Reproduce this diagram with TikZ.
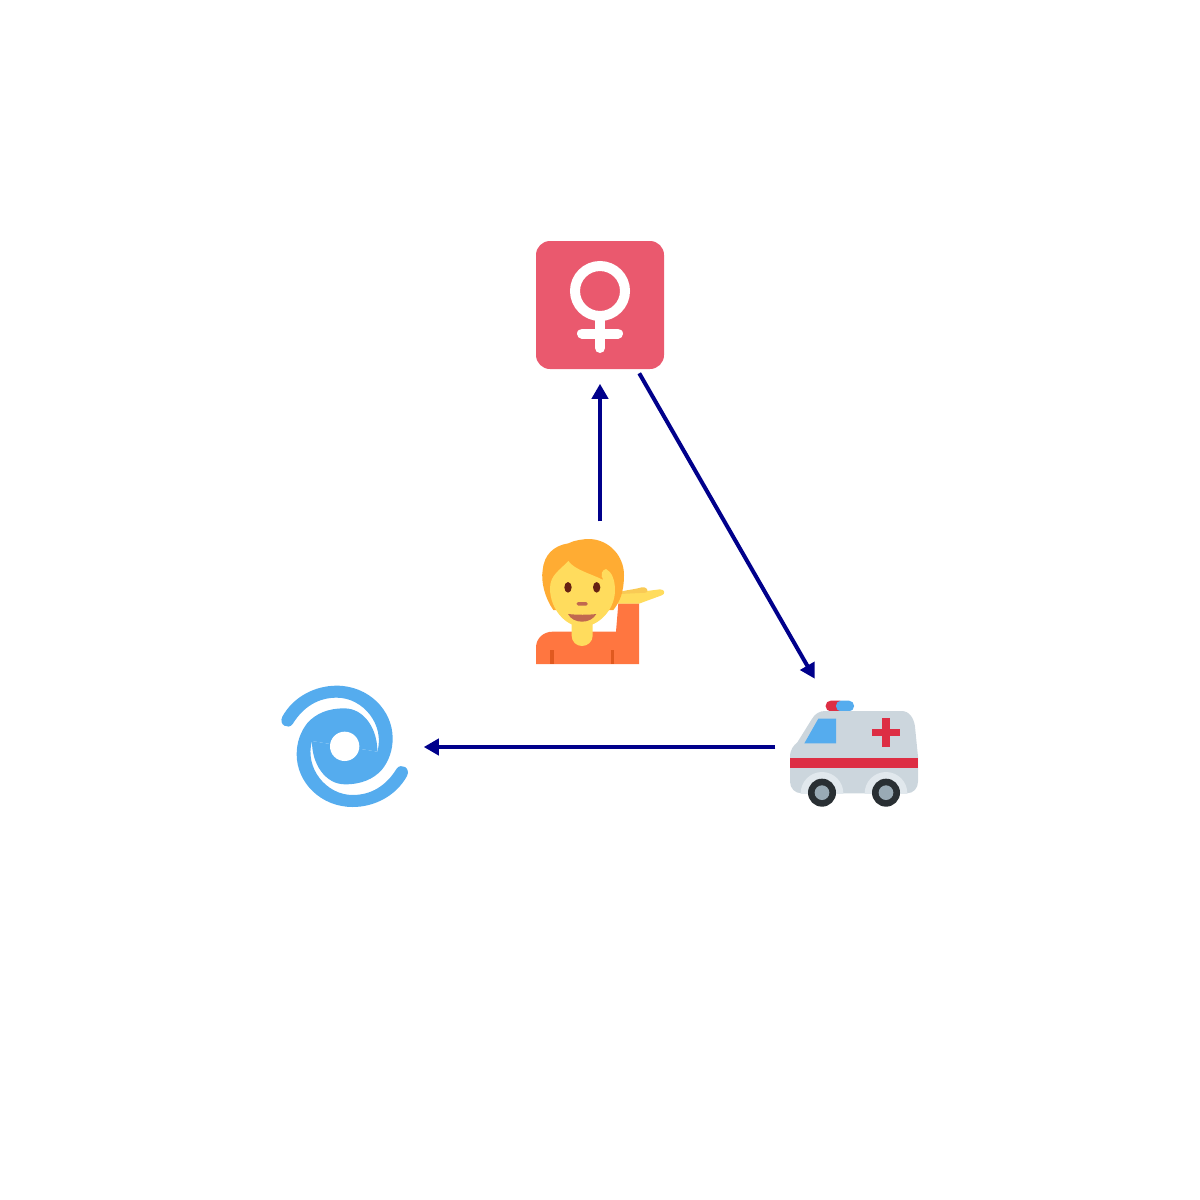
\documentclass[tikz,border=0pt]{standalone}
\usetikzlibrary{arrows.meta}
\definecolor{femalePink}{HTML}{EA596E}
\definecolor{skyBlue}{HTML}{55ACEE}
\definecolor{hairOrange}{HTML}{FFAC33}
\definecolor{skinYellow}{HTML}{FFDC5D}
\definecolor{handShade}{HTML}{F9CA55}
\definecolor{shirtOrange}{HTML}{FF7640}
\definecolor{seamOrange}{HTML}{E0591F}
\definecolor{eyeBrown}{HTML}{662113}
\definecolor{mouthBrown}{HTML}{C1694F}
\definecolor{vanGray}{HTML}{CCD6DD}
\definecolor{archGray}{HTML}{E1E8ED}
\definecolor{crossRed}{HTML}{DD2E44}
\definecolor{tyreDark}{HTML}{292F33}
\definecolor{hubGray}{HTML}{99AAB5}
\definecolor{linkBlue}{HTML}{00008B}
\begin{document}
\begin{tikzpicture}
        [x=0.01cm, y=-0.01cm,
        icon/.style={circle, minimum size=15.6mm, inner sep=0pt},
        link/.style={line width=0.4mm, color=linkBlue, -{Triangle[length=1.5mm, width=1.6mm]}}]
        \useasboundingbox (0,0) rectangle (1200,1200);

        \node[icon] (female) at (600,305) {};
        \node[icon] (person) at (600,600) {};
        \node[icon] (cyclone) at (345,747) {};
        \node[icon] (ambulance) at (854,747) {};

        % female sign
        \fill[femalePink, rounded corners=1.4mm] (536,241) rectangle (664,369);
        \draw[white, line width=1mm] (600,291) circle (25);
        \draw[white, line width=1mm, line cap=round] (600,318) -- (600,348);
        \draw[white, line width=1mm, line cap=round] (582,333.5) -- (618,333.5);

        % person
        \begin{scope}[shift={(520,525)}, scale=1/3]
            \fill[shirtOrange] (48,417) -- (48,368) .. controls (48,340) and (70,320) .. (98,320)
                -- (288,320) -- (295,235) -- (357,235) -- (357,417) -- cycle;
            \fill[seamOrange] (90,375) rectangle (102,417);
            \fill[seamOrange] (272,375) rectangle (282,417);
            \fill[skinYellow] (293,236) -- (293,205) -- (380,198) -- (420,193)
                .. controls (436,193) and (436,208) .. (425,211) -- (357,236) -- cycle;
            \fill[handShade] (293,207) .. controls (300,195) and (330,197) .. (365,187)
                .. controls (380,184) and (388,198) .. (378,203) -- (300,207) -- cycle;
            \fill[hairOrange] (100,255) .. controls (75,220) and (62,170) .. (68,135)
                .. controls (72,90) and (100,62) .. (145,55)
                .. controls (165,45) and (190,42) .. (210,42)
                .. controls (270,45) and (312,95) .. (312,150)
                .. controls (312,200) and (300,230) .. (280,255) -- cycle;
            \fill[skinYellow] (155,290) -- (218,290) -- (218,332)
                .. controls (218,350) and (203,363) .. (186,363)
                .. controls (169,363) and (155,350) .. (155,332) -- cycle;
            \fill[skinYellow] (90,190) .. controls (90,150) and (120,135) .. (145,108)
                .. controls (165,135) and (210,145) .. (250,165)
                .. controls (240,150) and (245,135) .. (258,132)
                .. controls (275,140) and (285,165) .. (285,195)
                .. controls (285,255) and (235,305) .. (186,305)
                .. controls (135,305) and (90,250) .. (90,190) -- cycle;
            \fill[eyeBrown] (144,187) ellipse (11 and 16);
            \fill[eyeBrown] (230,187) ellipse (11 and 16);
            \fill[mouthBrown, rounded corners=0.15mm] (170,231) rectangle (203,242);
            \fill[mouthBrown] (144,267) .. controls (170,270) and (205,270) .. (229,267)
                .. controls (220,282) and (205,290) .. (186,290)
                .. controls (168,290) and (152,282) .. (144,267) -- cycle;
        \end{scope}

        % cyclone, the same arm twice
        \begin{scope}[shift={(270,675)}, scale=1/3]
            \foreach \ang in {0,180} {
                \fill[skyBlue, rotate around={\ang:(224,214)}]
                    (37,125) .. controls (70,65) and (135,32) .. (200,32)
                    .. controls (295,32) and (368,105) .. (368,190)
                    .. controls (368,225) and (357,258) .. (335,285)
                    .. controls (310,312) and (275,328) .. (225,328)
                    .. controls (165,328) and (125,265) .. (126,198)
                    -- (224,214) -- (322,230)
                    .. controls (345,150) and (280,68) .. (200,68)
                    .. controls (145,68) and (100,95) .. (68,147)
                    .. controls (55,165) and (25,150) .. (37,125) -- cycle;
            }
            \fill[white] (224,214) circle (44);
        \end{scope}

        % ambulance
        \begin{scope}[shift={(770,660)}, scale=1/3]
            \fill[crossRed, rounded corners=0.5mm] (167,122) rectangle (225,154);
            \fill[skyBlue, rounded corners=0.5mm] (198,122) rectangle (252,154);
            \fill[vanGray] (60,290) .. controls (60,268) and (72,255) .. (82,247)
                -- (125,178) .. controls (135,160) and (150,153) .. (165,153)
                -- (395,153) .. controls (418,153) and (432,175) .. (435,200)
                -- (444,290) -- (444,365)
                .. controls (444,385) and (430,400) .. (410,400)
                -- (95,400) .. controls (75,400) and (60,385) .. (60,365) -- cycle;
            \fill[crossRed] (60,293) rectangle (444,325);
            \fill[skyBlue] (145,176) -- (198,176) -- (198,250) -- (103,250) -- cycle;
            \fill[crossRed] (337,175) rectangle (359,261);
            \fill[crossRed] (305,207) rectangle (391,229);
            \begin{scope}
                \clip (60,330) rectangle (444,400);
                \fill[archGray] (156,400) circle (64);
                \fill[archGray] (348,400) circle (64);
            \end{scope}
            \foreach \wheelx in {156,348} {
                \fill[tyreDark] (\wheelx,398) circle (42);
                \fill[hubGray] (\wheelx,398) circle (22);
            }
        \end{scope}

        \draw[link] (person) -- (female);
        \draw[link] (female) -- (ambulance);
        \draw[link] (ambulance) -- (cyclone);

    \end{tikzpicture}
\end{document}
